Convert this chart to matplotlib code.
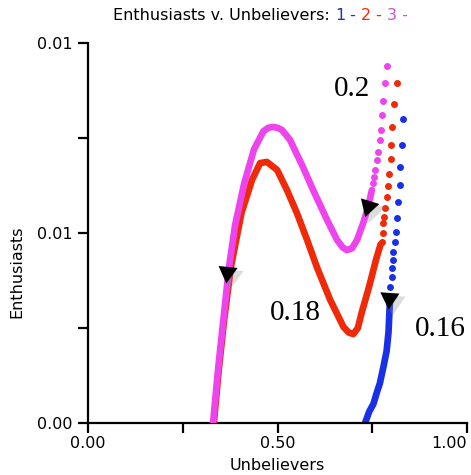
import matplotlib
matplotlib.use('Agg')
import matplotlib.pyplot as plt
from matplotlib.transforms import offset_copy

# values (Unbelievers, Enthusiasts)
# dense part of each trajectory is drawn as a thick line, fast part as dots
mag_line_x = [0.330, 0.343, 0.357, 0.372, 0.388, 0.412, 0.438, 0.463, 0.476, 0.488,
              0.500, 0.512, 0.533, 0.567, 0.594, 0.631, 0.657, 0.672, 0.683, 0.697,
              0.710, 0.726, 0.739, 0.749]
mag_line_y = [0.0, 0.0014, 0.0027, 0.0041, 0.0052, 0.0063, 0.0072, 0.00768, 0.00777, 0.00779,
              0.00777, 0.00771, 0.00745, 0.00674, 0.00613, 0.00534, 0.00482, 0.00462, 0.00455, 0.00460,
              0.00482, 0.00526, 0.00568, 0.00613]
mag_dot_x = [0.753, 0.755, 0.757, 0.762, 0.766, 0.770, 0.772, 0.775, 0.779, 0.784, 0.790]
mag_dot_y = [0.00631, 0.00648, 0.00666, 0.00692, 0.00714, 0.00745, 0.00771, 0.00811, 0.00848, 0.00894, 0.00940]

red_line_x = [0.332, 0.345, 0.359, 0.377, 0.405, 0.433, 0.454, 0.472, 0.499, 0.525,
              0.551, 0.578, 0.604, 0.639, 0.674, 0.688, 0.700, 0.712, 0.722, 0.742,
              0.760, 0.772]
red_line_y = [0.0, 0.0014, 0.0027, 0.0041, 0.00553, 0.0064, 0.00684, 0.00687, 0.00666, 0.00613,
              0.00553, 0.00482, 0.0041, 0.00324, 0.00253, 0.00238, 0.00234, 0.00250, 0.0029, 0.0036,
              0.0043, 0.0047]
red_dot_x = [0.775, 0.778, 0.779, 0.781, 0.784, 0.788, 0.792, 0.795, 0.799, 0.800, 0.803, 0.808, 0.815]
red_dot_y = [0.00477, 0.00499, 0.00526, 0.00543, 0.00565, 0.00596, 0.00624, 0.00655, 0.00695,
             0.00732, 0.00780, 0.00839, 0.00896]

blue_line_x = [0.731, 0.742, 0.753, 0.762, 0.770, 0.780, 0.788, 0.793, 0.797]
blue_line_y = [0.0, 0.0003, 0.0005, 0.0008, 0.00104, 0.0015, 0.0019, 0.0024, 0.0033]
blue_dot_x = [0.797, 0.801, 0.801, 0.806, 0.806, 0.810, 0.813, 0.815, 0.819, 0.823, 0.823, 0.828, 0.832]
blue_dot_y = [0.00359, 0.00385, 0.00407, 0.00429, 0.00451, 0.00477, 0.00503, 0.00539, 0.00582,
              0.00626, 0.00674, 0.00732, 0.00799]

# arrow heads: x, y, rotation (deg)
arrows = [(0.367, 0.00397, 174), (0.739, 0.00571, 163), (0.794, 0.00329, 176)]

# curve labels
curve_labels = [("0.2", 0.697, 0.00879), ("0.18", 0.546, 0.00289), ("0.16", 0.929, 0.00247)]

x_ticks = [0.0, 0.25, 0.5, 0.75, 1.0]
x_ticklabels = ["0.00", "", "0.50", "", "1.00"]
y_ticks = [0.0, 0.0025, 0.005, 0.0075, 0.01]
y_ticklabels = ["0.00", "", "0.01", "", "0.01"]

BLUE = '#1a30e8'
RED = '#ee2a08'
MAG = '#ee44ee'
FS = 11.5

fig = plt.figure(figsize=(4.71, 4.75), dpi=100)
ax = fig.add_axes([88 / 471, 52 / 475, 379 / 471, 380 / 475])

ax.plot(blue_line_x, blue_line_y, color=BLUE, lw=4.8, solid_capstyle='round', zorder=2)
ax.plot(blue_dot_x, blue_dot_y, 'o', color=BLUE, ms=5, mew=0, zorder=2)
ax.plot(red_line_x, red_line_y, color=RED, lw=4.8, solid_capstyle='round', zorder=3)
ax.plot(red_dot_x, red_dot_y, 'o', color=RED, ms=5, mew=0, zorder=3)
ax.plot(mag_line_x, mag_line_y, color=MAG, lw=4.8, solid_capstyle='round', zorder=4)
ax.plot(mag_dot_x, mag_dot_y, 'o', color=MAG, ms=5, mew=0, zorder=4)

shadow = offset_copy(ax.transData, fig=fig, x=3, y=-3, units='points')
for ax_x, ax_y, rot in arrows:
    ax.plot(ax_x, ax_y, marker=(3, 0, rot), ms=19, color='0.55', alpha=0.3, mew=0,
            transform=shadow, zorder=5)
    ax.plot(ax_x, ax_y, marker=(3, 0, rot), ms=16, color='black', mew=0, zorder=6)

for txt, lx, ly in curve_labels:
    ax.text(lx, ly, txt, fontsize=21, family='Liberation Serif', ha='center', va='center',
            clip_on=False, zorder=7)

ax.set_xlim(0, 1)
ax.set_ylim(0, 0.01)
ax.spines['top'].set_visible(False)
ax.spines['right'].set_visible(False)
for s in ['left', 'bottom']:
    ax.spines[s].set_linewidth(1.6)
ax.set_xticks(x_ticks)
ax.set_xticklabels(x_ticklabels)
ax.set_yticks(y_ticks)
ax.set_yticklabels(y_ticklabels)
ax.tick_params(length=7, width=1.6, labelsize=FS)
ax.tick_params(axis='x', pad=2)
ax.tick_params(axis='y', pad=4)
# last x label sits against the right edge
ax.get_xticklabels()[-1].set_horizontalalignment('right')

fig.text(17 / 471, 1 - 272 / 475, 'Enthusiasts', rotation=90, ha='center', va='center', fontsize=FS)
fig.text(277 / 471, 1 - 465 / 475, 'Unbelievers', ha='center', va='center', fontsize=FS)

# multi-coloured title
title_parts = [("Enthusiasts v. Unbelievers: ", 'black'), ("1", '#2030c0'), (" - ", BLUE),
               ("2", RED), (" - ", RED), ("3", '#d050d0'), (" -", MAG)]
renderer = fig.canvas.get_renderer()
tx = 113 / 471
for part, col in title_parts:
    t = fig.text(tx, 1 - 15 / 475, part, color=col, fontsize=FS, ha='left', va='center')
    bb = t.get_window_extent(renderer)
    tx = bb.x1 / fig.bbox.width

fig.savefig('out.png', dpi=100)
